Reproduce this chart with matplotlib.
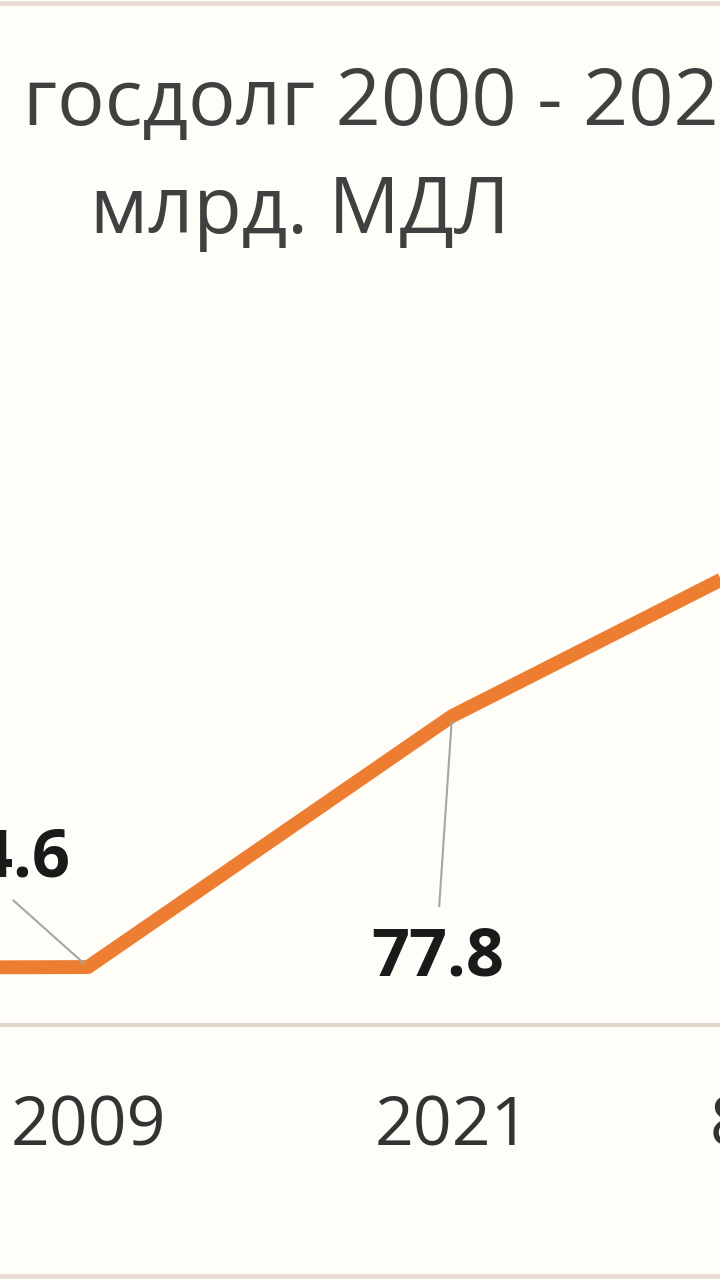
import matplotlib
matplotlib.use('Agg')
import matplotlib.pyplot as plt
from matplotlib.lines import Line2D

# ---- data ----
categories = ['2000', '2009', '2021', '8.2023']
debt = [14.3, 14.6, 77.8, 124.3]
labelled = [1, 2]  # indices whose data labels are visible
title_line1 = 'госдолг 2000 - 2023'
title_line2 = 'млрд. МДЛ'

W, H = 720, 1280
plt.rcParams['font.family'] = ['Open Sans', 'DejaVu Sans']

fig = plt.figure(figsize=(W / 100, H / 100), dpi=100)
bg = '#FFFDF8'
fig.patch.set_facecolor(bg)

# axes geometry (pixels): category spacing 364 px, category 1 centred at x=88
step = 364
x0 = 88 - step * 1.5
ax_left = x0 / W
ax_width = step * 4 / W
y_axis_px = 1025
ymax = 140
ppu = 3.97
ax_bottom = (H - y_axis_px) / H
ax_height = ymax * ppu / H
ax = fig.add_axes([ax_left, ax_bottom, ax_width, ax_height])
ax.set_facecolor('none')

xs = list(range(len(categories)))
ax.plot(xs, debt, color='#ED7D31', lw=10, solid_joinstyle='round',
        solid_capstyle='butt', zorder=3)
ax.set_xlim(-0.5, len(categories) - 0.5)
ax.set_ylim(0, ymax)

for s in ['top', 'left', 'right']:
    ax.spines[s].set_visible(False)
ax.spines['bottom'].set_color('#E2D6CA')
ax.spines['bottom'].set_linewidth(3)
ax.set_yticks([])
ax.set_xticks(xs)
ax.set_xticklabels(categories, fontsize=49, color='#333333')
ax.tick_params(axis='x', length=0, pad=50)

# data labels with leader lines
offsets = {1: (-84, 91), 2: (-14, -259)}
rel = {1: (0.5, 0.0), 2: (0.5, 1.0)}
shrA = {1: 6, 2: 11}
for i in labelled:
    dx, dy = offsets[i]
    ax.annotate(f'{debt[i]:.1f}', xy=(xs[i], debt[i]),
                xytext=(dx * 0.72, dy * 0.72), textcoords='offset points',
                ha='center', va='baseline', fontsize=48, fontweight='bold',
                color='#1A1A1A', zorder=4,
                arrowprops=dict(arrowstyle='-', color='#A6A6A6', lw=1.5,
                                relpos=rel[i], shrinkA=shrA[i], shrinkB=4))

# title
fig.text(23 / W, (H - 125) / H, title_line1, ha='left', va='baseline',
         fontsize=57, color='#404040')
fig.text(300 / W, (H - 233) / H, title_line2, ha='center', va='baseline',
         fontsize=57, color='#404040')

# outer frame (top and bottom edges visible)
frame_c = '#E8DDD2'
fig.add_artist(Line2D([0, 1], [1 - 3 / H, 1 - 3 / H], transform=fig.transFigure,
                      color=frame_c, lw=3.5))
fig.add_artist(Line2D([0, 1], [4 / H, 4 / H], transform=fig.transFigure,
                      color=frame_c, lw=3.5))

fig.savefig('out.png', dpi=100, facecolor=bg)
